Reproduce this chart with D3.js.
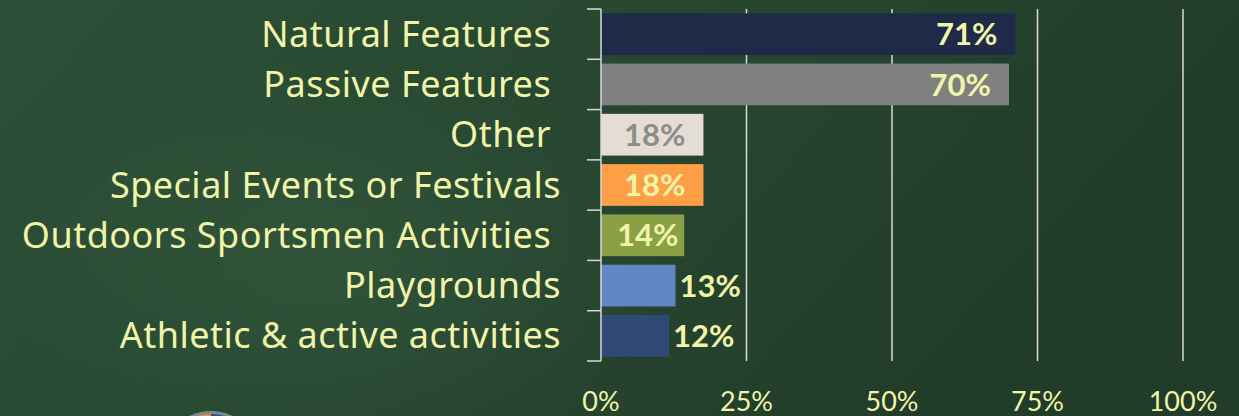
<!DOCTYPE html>
<html>
<head>
<meta charset="utf-8">
<script src="https://cdn.jsdelivr.net/npm/d3@7"></script>
<style>
  html, body { margin: 0; padding: 0; background: #25432d; }
  svg { display: block; }
</style>
</head>
<body>
<div id="chart"></div>
<script>
// categories, top to bottom
const categories = [
  "Natural Features\u00a0",
  "Passive Features\u00a0",
  "Other\u00a0",
  "Special Events or Festivals",
  "Outdoors Sportsmen Activities\u00a0",
  "Playgrounds",
  "Athletic & active activities"
];
// share of respondents (fraction)
const values = [0.712, 0.701, 0.176, 0.176, 0.143, 0.128, 0.117];
const barColors = ["#1e2a47", "#808080", "#e4ddd3", "#ff9f45", "#89a045", "#6288c3", "#2f4a76"];
const xTicks = [0, 0.25, 0.5, 0.75, 1];

const W = 1239, H = 416;
const textColor = "#f1f5a9";

const svg = d3.select("#chart")
  .append("svg")
  .attr("width", W)
  .attr("height", H);

// background
const defs = svg.append("defs");
const bg = defs.append("linearGradient").attr("id", "bg").attr("x1", 0).attr("x2", 1).attr("y1", 0).attr("y2", 0.3);
bg.append("stop").attr("offset", "0%").attr("stop-color", "#2c5037");
bg.append("stop").attr("offset", "45%").attr("stop-color", "#284831");
bg.append("stop").attr("offset", "100%").attr("stop-color", "#213c29");
svg.append("rect").attr("width", W).attr("height", H).attr("fill", "url(#bg)");
const glow = defs.append("radialGradient").attr("id", "glow");
glow.append("stop").attr("offset", "0%").attr("stop-color", "#3a6044").attr("stop-opacity", 0.45);
glow.append("stop").attr("offset", "100%").attr("stop-color", "#3a6044").attr("stop-opacity", 0);
svg.append("ellipse").attr("cx", 330).attr("cy", 260).attr("rx", 330).attr("ry", 200).attr("fill", "url(#glow)");

// logo peeking at the bottom
const logo = svg.append("g");
logo.append("circle").attr("cx", 211).attr("cy", 462).attr("r", 51).attr("fill", "#7c8a8e");
logo.append("path").attr("d", d3.arc()({ innerRadius: 0, outerRadius: 48, startAngle: -Math.PI / 2, endAngle: 0 }))
  .attr("transform", "translate(211,462)").attr("fill", "#e8903a");
logo.append("path").attr("d", d3.arc()({ innerRadius: 0, outerRadius: 48, startAngle: 0, endAngle: Math.PI / 2 }))
  .attr("transform", "translate(211,462)").attr("fill", "#2f4f86");

// scales
const x = d3.scaleLinear().domain([0, 1]).range([601, 1183]);
const y = d3.scaleBand().domain(categories).range([9, 361]).paddingInner(0.17).paddingOuter(0.085);
const gap = (y.step() - y.bandwidth()) / 2;

// vertical gridlines
svg.append("g")
  .selectAll("line")
  .data(xTicks.slice(1))
  .enter()
  .append("line")
  .attr("x1", d => x(d)).attr("x2", d => x(d))
  .attr("y1", y.range()[0]).attr("y2", y.range()[1])
  .attr("stroke", "#d9d9d9")
  .attr("stroke-width", 1.5);

// bars
svg.append("g")
  .selectAll("rect")
  .data(values)
  .enter()
  .append("rect")
  .attr("x", x(0))
  .attr("y", (d, i) => y(categories[i]))
  .attr("width", d => x(d) - x(0))
  .attr("height", y.bandwidth())
  .attr("fill", (d, i) => barColors[i]);

// category axis (ticks on band boundaries)
const axisG = svg.append("g").attr("stroke", "#d9d9d9").attr("stroke-width", 1.5);
axisG.append("line")
  .attr("x1", x(0)).attr("x2", x(0))
  .attr("y1", y.range()[0]).attr("y2", y.range()[1]);
const bounds = categories.map(c => y(c) - gap).concat([y.range()[1]]);
axisG.selectAll(".tk")
  .data(bounds)
  .enter()
  .append("line")
  .attr("x1", x(0) - 14).attr("x2", x(0))
  .attr("y1", d => d).attr("y2", d => d);

// category labels
svg.append("g")
  .selectAll("text")
  .data(categories)
  .enter()
  .append("text")
  .attr("x", 561)
  .attr("y", d => y(d) + y.bandwidth() / 2)
  .attr("dy", "0.35em")
  .attr("text-anchor", "end")
  .style("font-family", "'Noto Sans', 'DejaVu Sans', sans-serif")
  .style("font-size", "36px")
  .style("letter-spacing", "0.5px")
  .style("white-space", "pre")
  .attr("fill", textColor)
  .text(d => d);

// data labels
const fmt = d3.format(".0%");
const dl = svg.append("g")
  .selectAll("text")
  .data(values)
  .enter()
  .append("text")
  .attr("y", (d, i) => y(categories[i]) + y.bandwidth() / 2)
  .attr("dy", "0.36em")
  .style("font-family", "Lato, sans-serif")
  .style("font-weight", "bold")
  .style("font-size", "31px")
  .attr("fill", (d, i) => i === 2 ? "#8c8c8c" : textColor)
  .text(d => fmt(d));

dl.each(function (d) {
  const t = d3.select(this);
  const w = this.getComputedTextLength();
  const end = x(d);
  if (end - x(0) < w + 16) {
    // not enough room: outside end
    t.attr("text-anchor", "start").attr("x", end + 4);
  } else {
    t.attr("text-anchor", "end").attr("x", Math.max(end - 18, x(0) + 16 + w));
  }
});

// value axis labels
svg.append("g")
  .selectAll("text")
  .data(xTicks)
  .enter()
  .append("text")
  .attr("x", d => x(d))
  .attr("y", 411)
  .attr("text-anchor", "middle")
  .style("font-family", "Lato, sans-serif")
  .style("font-size", "27px")
  .attr("fill", textColor)
  .text(d => fmt(d));
</script>
</body>
</html>
